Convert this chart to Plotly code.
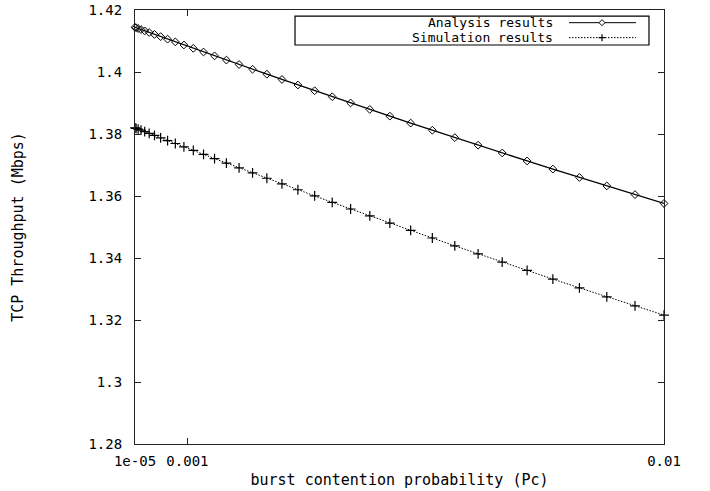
import plotly.graph_objects as go

# ---- data ----
pc = [0.00001, 0.0000309, 0.0000694, 0.0001235, 0.0001929, 0.0002778, 0.0003781,
      0.0004938, 0.000625, 0.0007716, 0.0009336, 0.0011111, 0.001304, 0.0015123,
      0.0017361, 0.0019753, 0.0022299, 0.0025, 0.0027855, 0.0030864, 0.0034028,
      0.0037346, 0.0040818, 0.0044444, 0.0048225, 0.005216, 0.005625, 0.0060494,
      0.0064892, 0.0069444, 0.0074151, 0.0079012, 0.0084028, 0.0089198, 0.0094522,
      0.01]

analysis = [1.41440, 1.41427, 1.41403, 1.41370, 1.41327, 1.41274, 1.41212, 1.41141,
            1.41060, 1.40971, 1.40872, 1.40763, 1.40646, 1.40520, 1.40385, 1.40241,
            1.40089, 1.39928, 1.39759, 1.39581, 1.39396, 1.39202, 1.39001, 1.38792,
            1.38575, 1.38352, 1.38121, 1.37883, 1.37639, 1.37388, 1.37131, 1.36868,
            1.36599, 1.36325, 1.36045, 1.35760]

simulation = [1.38198, 1.38184, 1.38159, 1.38122, 1.38076, 1.38020, 1.37953, 1.37876,
              1.37789, 1.37693, 1.37586, 1.37470, 1.37344, 1.37208, 1.37063, 1.36908,
              1.36745, 1.36572, 1.36391, 1.36201, 1.36003, 1.35796, 1.35581, 1.35359,
              1.35128, 1.34890, 1.34645, 1.34393, 1.34134, 1.33869, 1.33598, 1.33320,
              1.33037, 1.32749, 1.32456, 1.32158]

series_names = ["Analysis results", "Simulation results"]
x_tickvals = [0.00001, 0.001, 0.01]
x_ticktext = ["1e-05", "0.001", "0.01"]
y_tickvals = [1.28, 1.30, 1.32, 1.34, 1.36, 1.38, 1.40, 1.42]
y_ticktext = ["1.28", "1.3", "1.32", "1.34", "1.36", "1.38", "1.4", "1.42"]

FONT = "DejaVu Sans Mono"
INK = "#000000"
DOT = "1.5px,1.5px"

fig = go.Figure()
fig.add_trace(go.Scatter(
    x=pc, y=analysis, name=series_names[0], mode="lines+markers",
    line=dict(color=INK, width=1.3),
    marker=dict(symbol="diamond-open", size=6, color=INK, line=dict(width=1, color=INK)),
    cliponaxis=False, showlegend=False))
fig.add_trace(go.Scatter(
    x=pc, y=simulation, name=series_names[1], mode="lines+markers",
    line=dict(color=INK, width=1, dash=DOT),
    marker=dict(symbol="cross-thin", size=7, color=INK, line=dict(width=1.2, color=INK)),
    cliponaxis=False, showlegend=False))

axis_common = dict(showline=True, linecolor="#222", linewidth=1.2, mirror="allticks",
                   ticks="inside", ticklen=6, tickwidth=1, tickcolor="#222",
                   showgrid=False, zeroline=False, automargin=False,
                   tickfont=dict(family=FONT, size=14, color=INK))

fig.update_xaxes(range=[x_tickvals[0], x_tickvals[-1]], tickmode="array",
                 tickvals=x_tickvals, ticktext=x_ticktext, ticklabelstandoff=4,
                 title=dict(text="burst contention probability (Pc)",
                            font=dict(family=FONT, size=15, color=INK), standoff=6),
                 **axis_common)
fig.update_yaxes(range=[y_tickvals[0], y_tickvals[-1]], tickmode="array",
                 tickvals=y_tickvals, ticktext=y_ticktext, ticklabelstandoff=9,
                 title=dict(text="TCP Throughput (Mbps)",
                            font=dict(family=FONT, size=15, color=INK), standoff=61),
                 **axis_common)

# ---- gnuplot-style key (text left, sample right) ----
box_x0, box_x1, box_y0, box_y1 = 0.3025, 0.9716, 0.9194, 0.9857
rows_y = [0.9708, 0.9363]
text_right = 0.794
samp_x0, samp_x1, samp_mid = 0.8204, 0.947, 0.8828

fig.add_shape(type="rect", xref="paper", yref="paper", x0=box_x0, x1=box_x1,
              y0=box_y0, y1=box_y1, line=dict(color=INK, width=1.2), fillcolor="white")
for name, yy, dash in zip(series_names, rows_y, ["solid", DOT]):
    fig.add_annotation(xref="paper", yref="paper", x=text_right, y=yy, text=name,
                       showarrow=False, xanchor="right", yanchor="middle",
                       font=dict(family=FONT, size=13, color=INK))
    fig.add_shape(type="line", xref="paper", yref="paper", x0=samp_x0, x1=samp_x1,
                  y0=yy, y1=yy, line=dict(color=INK, width=1, dash=dash))
# diamond marker sample
fig.add_shape(type="path", xref="paper", yref="paper", xsizemode="pixel", ysizemode="pixel",
              xanchor=samp_mid, yanchor=rows_y[0], path="M -3 0 L 0 3 L 3 0 L 0 -3 Z",
              line=dict(color=INK, width=1), fillcolor="white")
# plus marker sample
fig.add_shape(type="line", xref="paper", yref="paper", xsizemode="pixel", ysizemode="pixel",
              xanchor=samp_mid, yanchor=rows_y[1], x0=-3.5, x1=3.5, y0=0, y1=0,
              line=dict(color=INK, width=1.2))
fig.add_shape(type="line", xref="paper", yref="paper", xsizemode="pixel", ysizemode="pixel",
              xanchor=samp_mid, yanchor=rows_y[1], x0=0, x1=0, y0=-3.5, y1=3.5,
              line=dict(color=INK, width=1.2))

fig.update_layout(width=710, height=491, margin=dict(l=135, r=46, t=10, b=47),
                  paper_bgcolor="white", plot_bgcolor="white",
                  font=dict(family=FONT, size=14, color=INK))

fig.write_html("out.html", config={"displayModeBar": False},
               post_script="document.body.style.margin='0';document.body.style.overflow='hidden';")
